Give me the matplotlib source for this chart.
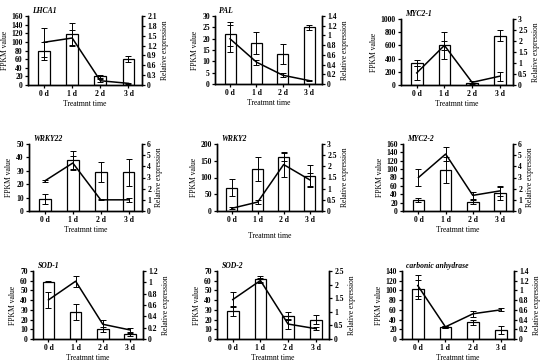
import matplotlib.pyplot as plt
from matplotlib.ticker import MultipleLocator, FormatStrFormatter

plt.rcParams['font.family'] = ['Liberation Serif', 'DejaVu Serif']

days = ["0 d", "1 d", "2 d", "3 d"]
xpos = [0, 1, 2, 3]

genes = ["LHCA1", "PAL", "MYC2-1", "WRKY22", "WRKY2", "MYC2-2",
         "SOD-1", "SOD-2", "carbonic anhydrase"]

# FPKM values (bars)
fpkm = {
    "LHCA1": [79, 118, 20, 60],
    "PAL": [22, 18, 13.3, 25],
    "MYC2-1": [335, 600, 25, 750],
    "WRKY22": [9, 38, 29, 29],
    "WRKY2": [70, 125, 162, 105],
    "MYC2-2": [27, 98, 21, 42],
    "SOD-1": [59, 28, 10, 5],
    "SOD-2": [29, 62, 24, 20],
    "carbonic anhydrase": [102, 25, 34, 18],
}
fpkm_err = {
    "LHCA1": [21, 26, 3, 7],
    "PAL": [5.3, 4.8, 4.4, 1.2],
    "MYC2-1": [50, 205, 10, 90],
    "WRKY22": [4, 6.5, 7.5, 10],
    "WRKY2": [25, 36, 12, 32],
    "MYC2-2": [5, 30, 5, 16],
    "SOD-1": [0.8, 8, 2.5, 1.5],
    "SOD-2": [5, 3, 4, 5],
    "carbonic anhydrase": [20, 1.5, 5, 8],
}
# relative expression (line)
rel = {
    "LHCA1": [1.3, 1.43, 0.13, 0.05],
    "PAL": [0.93, 0.45, 0.18, 0.07],
    "MYC2-1": [0.55, 1.8, 0.12, 0.4],
    "WRKY22": [2.7, 4.3, 1.0, 1.0],
    "WRKY2": [0.12, 0.4, 2.08, 1.4],
    "MYC2-2": [3.0, 5.1, 1.4, 1.8],
    "SOD-1": [0.69, 1.02, 0.26, 0.16],
    "SOD-2": [1.45, 2.15, 0.55, 0.38],
    "carbonic anhydrase": [1.1, 0.25, 0.52, 0.6],
}
rel_err = {
    "LHCA1": [0.45, 0.25, 0.05, 0.02],
    "PAL": [0.28, 0.05, 0.04, 0.01],
    "MYC2-1": [0.3, 0.2, 0.05, 0.2],
    "WRKY22": [0.1, 0.6, 0.05, 0.2],
    "WRKY2": [0.05, 0.1, 0.55, 0.3],
    "MYC2-2": [0.8, 0.6, 0.3, 0.45],
    "SOD-1": [0.14, 0.1, 0.08, 0.03],
    "SOD-2": [0.27, 0.08, 0.2, 0.05],
    "carbonic anhydrase": [0.22, 0.02, 0.06, 0.03],
}
# axis limits / tick steps: (left max, left step, right max, right step)
scales = {
    "LHCA1": (160, 20, 2.1, 0.3),
    "PAL": (30, 5, 1.4, 0.2),
    "MYC2-1": (1000, 200, 3, 0.5),
    "WRKY22": (50, 10, 6, 1),
    "WRKY2": (200, 50, 3, 0.5),
    "MYC2-2": (160, 20, 6, 1),
    "SOD-1": (70, 10, 1.2, 0.2),
    "SOD-2": (70, 10, 2.5, 0.5),
    "carbonic anhydrase": (140, 20, 1.4, 0.2),
}

# panel boxes in pixels: left, top, right, bottom
boxes = [
    (28, 16, 142, 85), (215, 16, 322, 84), (401, 19, 513, 85),
    (29, 144, 142, 211), (217, 144, 322, 211), (403, 144, 513, 211),
    (33, 271, 143, 339), (217, 271, 329, 339), (402, 271, 514, 339),
]

W, H = 550, 363
fig = plt.figure(figsize=(W / 100, H / 100), dpi=100)
fs = 5.5

for g, (l, t, r, b) in zip(genes, boxes):
    ax = fig.add_axes([l / W, 1 - b / H, (r - l) / W, (b - t) / H])
    ax2 = ax.twinx()
    ax.bar(xpos, fpkm[g], width=0.42, color="white", edgecolor="black",
           linewidth=0.9, yerr=fpkm_err[g], capsize=2.2,
           error_kw=dict(elinewidth=0.7, capthick=0.7))
    ax2.errorbar(xpos, rel[g], yerr=rel_err[g], color="black", lw=1.1,
                 elinewidth=0.7, capsize=2.2, capthick=0.7)
    lmax, lstep, rmax, rstep = scales[g]
    ax.set_ylim(0, lmax)
    ax2.set_ylim(0, rmax)
    ax.yaxis.set_major_locator(MultipleLocator(lstep))
    ax2.yaxis.set_major_locator(MultipleLocator(rstep))
    ax2.yaxis.set_major_formatter(FormatStrFormatter("%g"))
    ax.set_xlim(-0.57, 3.48)
    ax.set_xticks(xpos)
    ax.set_xticklabels(days)
    for a in (ax, ax2):
        a.spines["top"].set_visible(False)
        for s in ("left", "right", "bottom"):
            a.spines[s].set_linewidth(1.0)
        a.tick_params(labelsize=fs, width=0.9, length=2.2, pad=1.5)
        for lab in a.get_yticklabels() + a.get_xticklabels():
            lab.set_fontweight("bold")
    ax.set_ylabel("FPKM value", fontsize=fs, labelpad=2)
    ax2.set_ylabel("Relative expression", fontsize=fs, labelpad=3)
    ax.set_xlabel("Treatmnt time", fontsize=fs,
                  labelpad=6 if g == "WRKY2" else 1)
    ax.set_title(g, fontsize=fs, fontweight="bold", style="italic",
                 loc="left", pad=2, x=0.04)

fig.savefig("out.png", dpi=100)
